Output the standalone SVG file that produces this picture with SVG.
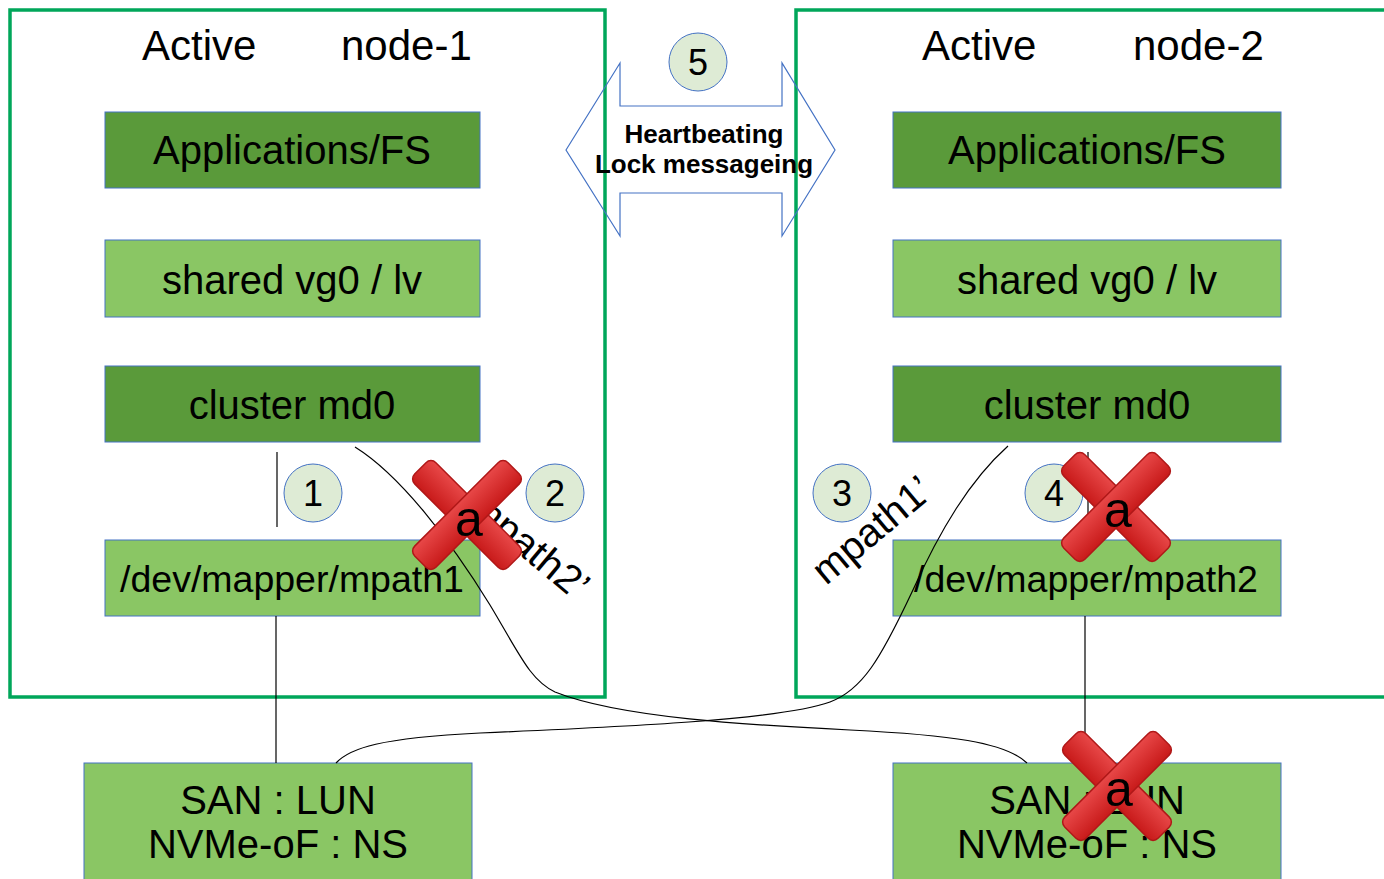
<svg xmlns="http://www.w3.org/2000/svg" width="1384" height="879" viewBox="0 0 1384 879">
<defs>
<style>
.cont{fill:none;stroke:#00a65a;stroke-width:3.5}
.dark{fill:#5a9a3a;stroke:#4472c4;stroke-width:1}
.light{fill:#8ac664;stroke:#4472c4;stroke-width:1}
.t40{font-family:"Liberation Sans",Arial,sans-serif;font-size:40px;fill:#000;text-anchor:middle}
.t42{font-family:"Liberation Sans",Arial,sans-serif;font-size:42px;fill:#000}
.num{fill:#deebd5;stroke:#4472c4;stroke-width:1}
.numt{font-family:"Liberation Sans",Arial,sans-serif;font-size:36px;fill:#000;text-anchor:middle}
.conn{fill:none;stroke:#000;stroke-width:1.2}
.bar{fill:url(#redg);stroke:#b01818;stroke-width:1.5}
.at{font-family:"Liberation Sans",Arial,sans-serif;font-size:50px;fill:#000;text-anchor:middle}
.lbl{font-family:"Liberation Sans",Arial,sans-serif;font-size:40px;fill:#000}
</style>
<linearGradient id="redg" x1="0" y1="0" x2="0" y2="1">
<stop offset="0" stop-color="#e84848"/>
<stop offset="1" stop-color="#c81a1a"/>
</linearGradient>
<g id="xmark">
<rect class="bar" x="-66" y="-15" width="132" height="30" rx="7" transform="rotate(45)"/>
<rect class="bar" x="-66" y="-15" width="132" height="30" rx="7" transform="rotate(-45)"/>
</g>
</defs>
<rect width="1384" height="879" fill="#fff"/>

<g id="node1-container">
<rect class="cont" x="10" y="10" width="595" height="687"/>
<text class="t42" x="142" y="60">Active</text>
<text class="t42" x="341" y="60">node-1</text>
</g>
<g id="node2-container">
<rect class="cont" x="796" y="10" width="620" height="687"/>
<text class="t42" x="922" y="60">Active</text>
<text class="t42" x="1133" y="60">node-2</text>
</g>

<g id="heartbeat">
<path d="M566,150 L620,63 L620,106 L782,106 L782,63 L835,150 L782,236 L782,193 L620,193 L620,236 Z" fill="none" stroke="#4472c4" stroke-width="1.2"/>
<text x="704" y="143" font-family="Liberation Sans,Arial,sans-serif" font-size="26" font-weight="bold" text-anchor="middle">Heartbeating</text>
<text x="704" y="173" font-family="Liberation Sans,Arial,sans-serif" font-size="26" font-weight="bold" text-anchor="middle">Lock messageing</text>
</g>

<g id="n1-app"><rect class="dark" x="105" y="112" width="375" height="76"/><text class="t40" x="292" y="164">Applications/FS</text></g>
<g id="n1-vg"><rect class="light" x="105" y="240" width="375" height="77"/><text class="t40" x="292" y="294">shared vg0 / lv</text></g>
<g id="n1-md"><rect class="dark" x="105" y="366" width="375" height="76"/><text class="t40" x="292" y="419">cluster md0</text></g>
<g id="n1-mpath"><rect class="light" x="105" y="540" width="375" height="76"/><text class="t40" x="292" y="592" style="font-size:37.5px">/dev/mapper/mpath1</text></g>
<g id="san1"><rect class="light" x="84" y="763" width="388" height="130"/><text class="t40" x="278" y="814">SAN : LUN</text><text class="t40" x="278" y="858">NVMe-oF : NS</text></g>

<g id="n2-app"><rect class="dark" x="893" y="112" width="388" height="76"/><text class="t40" x="1087" y="164">Applications/FS</text></g>
<g id="n2-vg"><rect class="light" x="893" y="240" width="388" height="77"/><text class="t40" x="1087" y="294">shared vg0 / lv</text></g>
<g id="n2-md"><rect class="dark" x="893" y="366" width="388" height="76"/><text class="t40" x="1087" y="419">cluster md0</text></g>
<g id="n2-mpath"><rect class="light" x="893" y="540" width="388" height="76"/><text class="t40" x="1086" y="592" style="font-size:37.5px">/dev/mapper/mpath2</text></g>
<g id="san2"><rect class="light" x="893" y="763" width="388" height="130"/><text class="t40" x="1087" y="814">SAN : LUN</text><text class="t40" x="1087" y="858">NVMe-oF : NS</text></g>

<g id="connectors">
<line class="conn" x1="277" y1="452" x2="277" y2="527"/>
<line class="conn" x1="276" y1="616" x2="276" y2="763"/>
<line class="conn" x1="1088" y1="452" x2="1088" y2="530"/>
<line class="conn" x1="1085" y1="616" x2="1085" y2="740"/>
<path class="conn" d="M355,447 C400,475 450,540 490,605 C520,655 530,680 555,692 C620,718 750,725 850,730 C950,735 1005,742 1027,763"/>
<path class="conn" d="M1008,446 C970,480 940,530 912,592 C880,660 862,690 830,702 C780,720 620,727 480,733 C380,738 350,748 336,763"/>
</g>

<g id="labels">
<text class="lbl" transform="translate(466,510) rotate(40)">mpath2’</text>
<text class="lbl" transform="translate(826,586) rotate(-40)">mpath1’</text>
</g>

<g id="badge1"><circle class="num" cx="313" cy="493" r="29"/><text class="numt" x="313" y="506">1</text></g>
<g id="badge2"><circle class="num" cx="555" cy="493" r="29"/><text class="numt" x="555" y="506">2</text></g>
<g id="badge3"><circle class="num" cx="842" cy="493" r="29"/><text class="numt" x="842" y="506">3</text></g>
<g id="badge4"><circle class="num" cx="1054" cy="493" r="29"/><text class="numt" x="1054" y="506">4</text></g>
<g id="badge5"><circle class="num" cx="698" cy="62" r="29"/><text class="numt" x="698" y="75">5</text></g>

<g id="fail1"><use href="#xmark" transform="translate(467,515)"/><text class="at" x="469" y="536">a</text></g>
<g id="fail2"><use href="#xmark" transform="translate(1116,507)"/><text class="at" x="1118" y="527">a</text></g>
<g id="fail3"><use href="#xmark" transform="translate(1117,786)"/><text class="at" x="1119" y="806">a</text></g>
</svg>
